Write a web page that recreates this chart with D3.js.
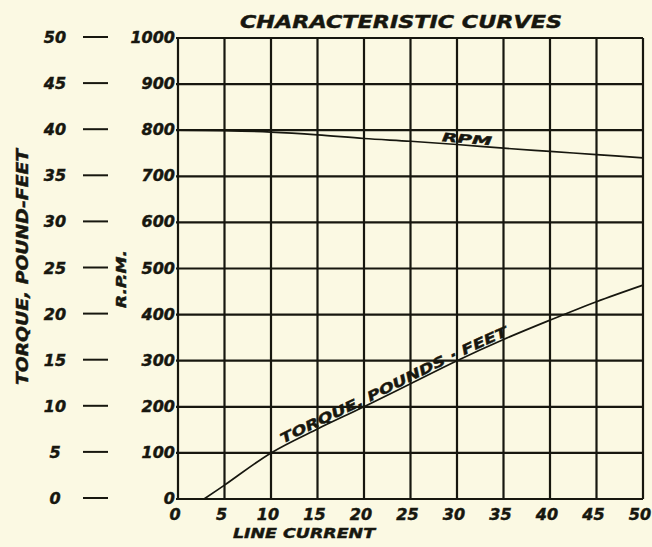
<!DOCTYPE html>
<html>
<head>
<meta charset="utf-8">
<script src="https://cdn.jsdelivr.net/npm/d3@7"></script>
<style>
  html, body { margin: 0; padding: 0; background: #fbf9e3; }
  svg { display: block; }
  text { font-family: "DejaVu Sans", sans-serif; font-weight: bold; font-style: oblique;
         fill: #17170f; stroke: #17170f; stroke-width: 0.45px; }
</style>
</head>
<body>
<svg id="chart" width="652" height="547"></svg>
<script>
// Line current (amperes) ticks and the two characteristic curves
const currentTicks = [0, 5, 10, 15, 20, 25, 30, 35, 40, 45, 50];
const rpmTicks = [0, 100, 200, 300, 400, 500, 600, 700, 800, 900, 1000];
const torqueTicks = [0, 5, 10, 15, 20, 25, 30, 35, 40, 45, 50];

const rpmCurrent = [0, 5, 10, 15, 20, 25, 30, 35, 40, 45, 50];
const rpmValues  = [800, 799, 796, 790, 782, 776, 769, 761, 754, 747, 740];

const torqueCurrent = [2.8, 5, 10, 15, 20, 25, 30, 35, 40, 45, 50];
const torqueValues  = [0, 1.5, 5, 7.6, 10, 12.5, 15, 17.3, 19.4, 21.4, 23.2];

const ink = "#17170f";
const svg = d3.select("#chart");

const x = d3.scaleLinear().domain([0, 50]).range([178, 643]);
const yRpm = d3.scaleLinear().domain([0, 1000]).range([499, 38]);
const yTorque = d3.scaleLinear().domain([0, 50]).range([499, 38]);

// Grid
const grid = svg.append("g");
grid.selectAll("line.v").data(currentTicks).join("line")
  .attr("x1", d => x(d)).attr("x2", d => x(d))
  .attr("y1", yRpm(1000)).attr("y2", yRpm(0))
  .attr("stroke", ink).attr("stroke-width", 2.2);
grid.selectAll("line.h").data(rpmTicks).join("line")
  .attr("x1", x(0) - 2).attr("x2", x(50))
  .attr("y1", d => yRpm(d)).attr("y2", d => yRpm(d))
  .attr("stroke", ink).attr("stroke-width", 2.2);

// Curves
const rpmLine = d3.line().curve(d3.curveCatmullRom.alpha(0.5))
  .x((d, i) => x(rpmCurrent[i])).y(d => yRpm(d));
const torqueLine = d3.line().curve(d3.curveCatmullRom.alpha(0.5))
  .x((d, i) => x(torqueCurrent[i])).y(d => yTorque(d));

svg.append("path").attr("id", "rpmPath").attr("d", rpmLine(rpmValues))
  .attr("fill", "none").attr("stroke", ink).attr("stroke-width", 1.7);
svg.append("path").attr("id", "torquePath").attr("d", torqueLine(torqueValues))
  .attr("fill", "none").attr("stroke", ink).attr("stroke-width", 1.7);

// Distance along a path where it reaches a given x position
function offsetAtX(id, px) {
  const node = document.getElementById(id);
  const total = node.getTotalLength();
  for (let l = 0; l <= total; l += 0.5) {
    if (node.getPointAtLength(l).x >= px) return l;
  }
  return total;
}

svg.append("text").attr("font-size", 12).attr("dy", -2)
  .append("textPath").attr("href", "#rpmPath")
  .attr("startOffset", offsetAtX("rpmPath", x(28.3)))
  .attr("textLength", 50).attr("lengthAdjust", "spacingAndGlyphs")
  .text("RPM");

svg.append("text").attr("font-size", 13.5).attr("dy", -2)
  .append("textPath").attr("href", "#torquePath")
  .attr("startOffset", offsetAtX("torquePath", x(11.4)))
  .attr("textLength", 250).attr("lengthAdjust", "spacingAndGlyphs")
  .text("TORQUE, POUNDS · FEET");

// Bottom tick labels
svg.append("g").selectAll("text").data(currentTicks).join("text")
  .attr("x", d => x(d) - 3).attr("y", 520)
  .attr("text-anchor", "middle").attr("font-size", 16)
  .text(d => d);

svg.append("text").attr("x", 233).attr("y", 538)
  .attr("font-size", 14).attr("textLength", 142).attr("lengthAdjust", "spacingAndGlyphs")
  .text("LINE CURRENT");

// RPM scale
svg.append("g").selectAll("text").data(rpmTicks).join("text")
  .attr("x", 175).attr("y", d => yRpm(d) + 5)
  .attr("text-anchor", "end").attr("font-size", 16)
  .text(d => d);

// Torque scale with dashes
svg.append("g").selectAll("text").data(torqueTicks).join("text")
  .attr("x", 55).attr("y", d => yTorque(d) + 5)
  .attr("text-anchor", "middle").attr("font-size", 16)
  .text(d => d);
svg.append("g").selectAll("line").data(torqueTicks).join("line")
  .attr("x1", 83).attr("x2", 108)
  .attr("y1", d => yTorque(d) - 1).attr("y2", d => yTorque(d) - 1)
  .attr("stroke", ink).attr("stroke-width", 2);

// Axis titles
svg.append("text")
  .attr("transform", "translate(28,267) rotate(-90)")
  .attr("text-anchor", "middle").attr("font-size", 15)
  .attr("textLength", 236).attr("lengthAdjust", "spacingAndGlyphs")
  .text("TORQUE, POUND-FEET");

svg.append("text")
  .attr("transform", "translate(126,279) rotate(-90)")
  .attr("text-anchor", "middle").attr("font-size", 14)
  .attr("textLength", 58).attr("lengthAdjust", "spacingAndGlyphs")
  .text("R.P.M.");

svg.append("text").attr("x", 401).attr("y", 28)
  .attr("text-anchor", "middle").attr("font-size", 18)
  .attr("textLength", 322).attr("lengthAdjust", "spacingAndGlyphs")
  .text("CHARACTERISTIC  CURVES");
</script>
</body>
</html>
